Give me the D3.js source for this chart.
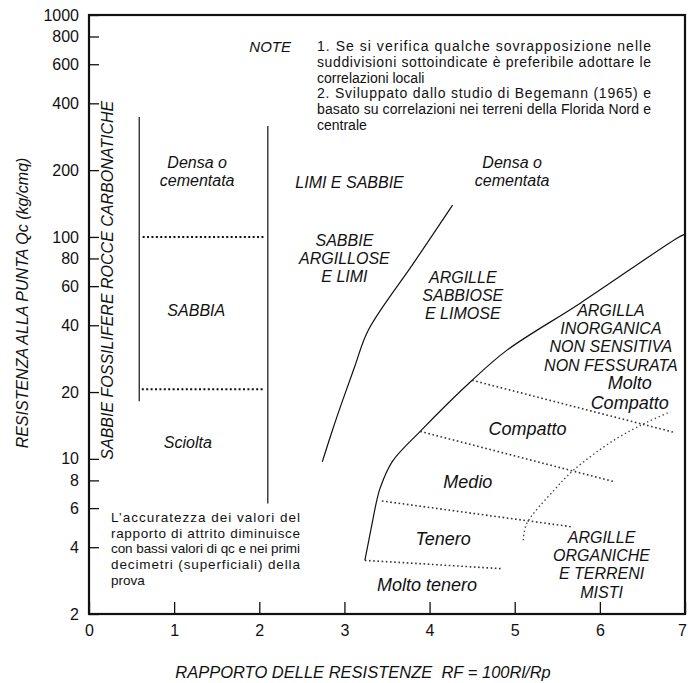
<!DOCTYPE html>
<html>
<head>
<meta charset="utf-8">
<script src="https://cdn.jsdelivr.net/npm/d3@7"></script>
<style>
  html, body { margin: 0; padding: 0; background: #fff; }
  svg { display: block; font-family: "Liberation Sans", Arial, sans-serif; }
  .axis text { font-size: 16px; fill: #111; font-family: "Liberation Sans", Arial, sans-serif; }
  .axis line { stroke: #111; stroke-width: 1.3; }
  .lbl { font-style: italic; fill: #111; }
</style>
</head>
<body>
<svg id="chart" width="688" height="683"></svg>
<script>
// ---------- data ----------
const xTicks = [0, 1, 2, 3, 4, 5, 6, 7];
const yTicks = [2, 4, 6, 8, 10, 20, 40, 60, 80, 100, 200, 400, 600, 800, 1000];

// solid boundaries [RF, Qc]
const carbonateLine = [[0.59, 18.2], [0.59, 347]];
const sandLine      = [[2.10, 6.3], [2.10, 316]];
const siltCurve     = [[2.74, 9.7], [2.86, 13.5], [2.98, 18.4], [3.12, 26], [3.28, 38], [3.81, 76], [4.27, 139]];
const clayCurve     = [[3.24, 3.49], [3.32, 5.0], [3.38, 6.5], [3.42, 7.4], [3.56, 9.7], [3.89, 13.3], [4.50, 22.6], [4.91, 30.9], [5.77, 50.3], [6.91, 98.9], [7.0, 103]];

// dotted subdivisions
const sandDenseLine = [[0.63, 100], [2.05, 100]];
const sandLooseLine = [[0.62, 20.6], [2.04, 20.6]];
const veryStiffLine = [[4.50, 22.6], [6.86, 13.2]];
const stiffLine     = [[3.89, 13.3], [6.18, 7.87]];
const mediumLine    = [[3.44, 6.46], [5.69, 4.93]];
const softLine      = [[3.24, 3.49], [4.85, 3.2]];
const organicLine   = [[5.10, 4.30], [5.14, 5.10], [5.46, 7.21], [5.69, 8.89], [6.16, 12.1], [6.55, 14.6], [6.83, 16.3]];

// zone labels: lines, centre of first line [RF, Qc], size class
const zoneLabels = [
  { lines: ["Densa o", "cementata"], rf: 1.27, qc: 217, cls: "m" },
  { lines: ["SABBIA"], rf: 1.26, qc: 46.8, cls: "m" },
  { lines: ["Sciolta"], rf: 1.16, qc: 11.9, cls: "m" },
  { lines: ["LIMI E SABBIE"], rf: 3.06, qc: 175, cls: "m" },
  { lines: ["SABBIE", "ARGILLOSE", "E LIMI"], rf: 3.00, qc: 96.8, cls: "m" },
  { lines: ["ARGILLE", "SABBIOSE", "E LIMOSE"], rf: 4.39, qc: 65.9, cls: "m" },
  { lines: ["Densa o", "cementata"], rf: 4.97, qc: 217, cls: "m" },
  { lines: ["ARGILLA", "INORGANICA", "NON SENSITIVA", "NON FESSURATA"], rf: 6.13, qc: 46.8, cls: "m" },
  { lines: ["Molto", "Compatto"], rf: 6.35, qc: 21.9, cls: "l" },
  { lines: ["Compatto"], rf: 5.15, qc: 13.7, cls: "l" },
  { lines: ["Medio"], rf: 4.45, qc: 7.89, cls: "l" },
  { lines: ["Tenero"], rf: 4.16, qc: 4.34, cls: "l" },
  { lines: ["Molto tenero"], rf: 3.97, qc: 2.69, cls: "l" },
  { lines: ["ARGILLE", "ORGANICHE", "E TERRENI", "MISTI"], rf: 6.02, qc: 4.43, cls: "m" }
];

const noteLines = [
  { t: "1. Se si verifica qualche sovrapposizione nelle", j: true },
  { t: "suddivisioni sottoindicate è preferibile adottare le", j: true },
  { t: "correlazioni locali", j: false },
  { t: "2. Sviluppato dallo studio di Begemann (1965) e", j: true },
  { t: "basato su correlazioni nei terreni della Florida Nord e", j: true },
  { t: "centrale", j: false }
];
const accuracyLines = [
  { t: "L’accuratezza dei valori del", j: true },
  { t: "rapporto di attrito diminuisce", j: true },
  { t: "con bassi valori di qc e nei primi", j: true },
  { t: "decimetri (superficiali) della", j: true },
  { t: "prova", j: false }
];

// ---------- chart ----------
const svg = d3.select("#chart");
const W = 688, H = 683;
const m = { left: 89, top: 15, right: 3, bottom: 69 };
const x = d3.scaleLinear().domain([0, 7]).range([m.left, W - m.right]);
const y = d3.scaleLog().domain([2, 1000]).range([H - m.bottom, m.top]);

// axes with inward ticks
const gx = svg.append("g").attr("class", "axis")
  .attr("transform", `translate(0,${H - m.bottom})`)
  .call(d3.axisBottom(x).tickValues(xTicks).tickSize(-12).tickPadding(11).tickFormat(d3.format("d")));
gx.select(".domain").remove();
gx.selectAll(".tick text").filter(d => d === 7).attr("dx", -3);
const gy = svg.append("g").attr("class", "axis")
  .attr("transform", `translate(${m.left},0)`)
  .call(d3.axisLeft(y).tickValues(yTicks).tickSize(-10).tickPadding(10).tickFormat(d3.format("d")));
gy.select(".domain").remove();

// frame
svg.append("rect")
  .attr("x", x(0)).attr("y", y(1000))
  .attr("width", x(7) - x(0)).attr("height", y(2) - y(1000))
  .attr("fill", "none").attr("stroke", "#111").attr("stroke-width", 2.2);

// axis titles
svg.append("text").attr("class", "lbl")
  .attr("x", 363).attr("y", 672)
  .attr("text-anchor", "middle").attr("dominant-baseline", "central")
  .style("font-size", "16.5px")
  .text("RAPPORTO DELLE RESISTENZE\u00a0\u00a0RF = 100Rl/Rp");
svg.append("text").attr("class", "lbl")
  .attr("transform", "translate(22,303) rotate(-90)")
  .attr("text-anchor", "middle").attr("dominant-baseline", "central")
  .style("font-size", "16px")
  .text("RESISTENZA ALLA PUNTA Qc (kg/cmq)");

// vertical label
svg.append("text").attr("class", "lbl")
  .attr("transform", `translate(${x(0.22)},${y(63.8)}) rotate(-90)`)
  .attr("text-anchor", "middle").attr("dominant-baseline", "central")
  .style("font-size", "16px")
  .text("SABBIE FOSSILIFERE ROCCE CARBONATICHE");

// lines
const straight = d3.line().x(d => x(d[0])).y(d => y(d[1]));
const smooth = d3.line().x(d => x(d[0])).y(d => y(d[1])).curve(d3.curveCatmullRom.alpha(0.5));

[carbonateLine, sandLine].forEach(d =>
  svg.append("path").attr("d", straight(d)).attr("fill", "none").attr("stroke", "#222").attr("stroke-width", 1.3));
[siltCurve, clayCurve].forEach(d =>
  svg.append("path").attr("d", smooth(d)).attr("fill", "none").attr("stroke", "#111").attr("stroke-width", 1.2));

[sandDenseLine, sandLooseLine].forEach(d =>
  svg.append("path").attr("d", straight(d)).attr("fill", "none").attr("stroke", "#111")
    .attr("stroke-width", 2).attr("stroke-dasharray", "2,2.4"));
[veryStiffLine, stiffLine, mediumLine, softLine].forEach(d =>
  svg.append("path").attr("d", straight(d)).attr("fill", "none").attr("stroke", "#333")
    .attr("stroke-width", 1.6).attr("stroke-dasharray", "1.6,2.6"));
svg.append("path").attr("d", smooth(organicLine)).attr("fill", "none").attr("stroke", "#444")
  .attr("stroke-width", 1.4).attr("stroke-dasharray", "1.4,2.8");

// zone labels
const sizes = { m: { fs: 16, lh: 18.3 }, l: { fs: 18, lh: 20 } };
zoneLabels.forEach(L => {
  const s = sizes[L.cls];
  const t = svg.append("text").attr("class", "lbl")
    .attr("text-anchor", "middle").style("font-size", s.fs + "px");
  L.lines.forEach((ln, i) => {
    t.append("tspan").attr("x", x(L.rf)).attr("y", y(L.qc) + i * s.lh)
      .attr("dominant-baseline", "central").text(ln);
  });
});

// NOTE block
svg.append("text").attr("class", "lbl").attr("x", 291).attr("y", 46)
  .attr("text-anchor", "end").attr("dominant-baseline", "central")
  .style("font-size", "15px").text("NOTE");
noteLines.forEach((ln, i) => {
  const t = svg.append("text").attr("x", 317).attr("y", 46 + i * 15.8)
    .attr("dominant-baseline", "central").style("font-size", "14px").attr("fill", "#111")
    .text(ln.t);
  if (ln.j) t.attr("textLength", 334).attr("lengthAdjust", "spacing");
});

// accuracy block
accuracyLines.forEach((ln, i) => {
  const t = svg.append("text").attr("x", 111).attr("y", 517.5 + i * 15.7)
    .attr("dominant-baseline", "central").style("font-size", "13.5px").attr("fill", "#111")
    .text(ln.t);
  if (ln.j) t.attr("textLength", 189).attr("lengthAdjust", "spacing");
});
</script>
</body>
</html>
